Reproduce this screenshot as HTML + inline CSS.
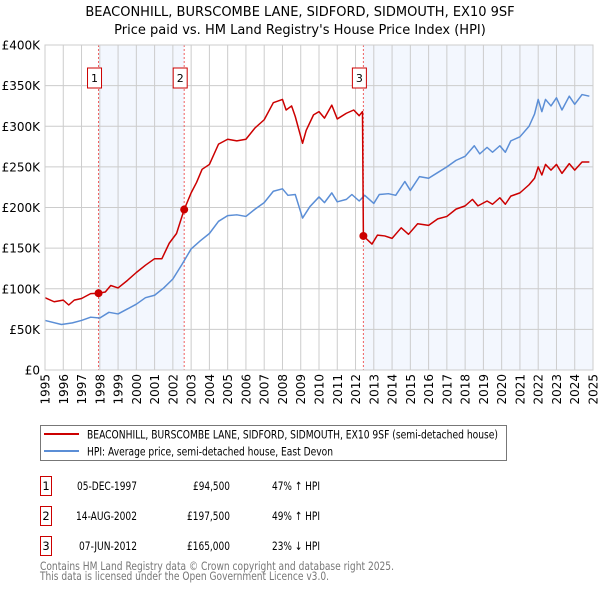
<!DOCTYPE html>
<html><head><meta charset="utf-8"><style>
body{margin:0;background:#fff;font-family:"DejaVu Sans","Liberation Sans",sans-serif;}
svg{display:block}
</style></head><body>
<svg id="chart" width="600" height="590" xmlns="http://www.w3.org/2000/svg" font-family="DejaVu Sans, Liberation Sans, sans-serif">
<text x="300" y="16" text-anchor="middle" font-size="13">BEACONHILL, BURSCOMBE LANE, SIDFORD, SIDMOUTH, EX10 9SF</text>
<text x="300" y="34" text-anchor="middle" font-size="13">Price paid vs. HM Land Registry's House Price Index (HPI)</text>
<g id="plot"></g>
<g>
<rect x="40.5" y="425.5" width="466" height="35" fill="#fff" stroke="#777"/>
<line x1="44" y1="434" x2="79" y2="434" stroke="#cc0000" stroke-width="2"/>
<text x="87" y="438.5" font-size="11.5" textLength="411" lengthAdjust="spacingAndGlyphs">BEACONHILL, BURSCOMBE LANE, SIDFORD, SIDMOUTH, EX10 9SF (semi-detached house)</text>
<line x1="44" y1="451" x2="79" y2="451" stroke="#5b8ed6" stroke-width="2"/>
<text x="87" y="455.5" font-size="11.5" textLength="246" lengthAdjust="spacingAndGlyphs">HPI: Average price, semi-detached house, East Devon</text>
</g>
<g font-size="11.5">
<rect x="40.5" y="476.5" width="11" height="19" fill="#fff" stroke="#cc0000"/><text x="46" y="490" text-anchor="middle">1</text>
<text x="77" y="490" textLength="60" lengthAdjust="spacingAndGlyphs">05-DEC-1997</text>
<text x="193" y="490" textLength="37" lengthAdjust="spacingAndGlyphs">£94,500</text>
<text x="272" y="490" textLength="48" lengthAdjust="spacingAndGlyphs">47% ↑ HPI</text>
<rect x="40.5" y="506.5" width="11" height="19" fill="#fff" stroke="#cc0000"/><text x="46" y="520" text-anchor="middle">2</text>
<text x="76" y="520" textLength="61" lengthAdjust="spacingAndGlyphs">14-AUG-2002</text>
<text x="187" y="520" textLength="43" lengthAdjust="spacingAndGlyphs">£197,500</text>
<text x="272" y="520" textLength="48" lengthAdjust="spacingAndGlyphs">49% ↑ HPI</text>
<rect x="40.5" y="536.5" width="11" height="19" fill="#fff" stroke="#cc0000"/><text x="46" y="550" text-anchor="middle">3</text>
<text x="79" y="550" textLength="58" lengthAdjust="spacingAndGlyphs">07-JUN-2012</text>
<text x="187" y="550" textLength="43" lengthAdjust="spacingAndGlyphs">£165,000</text>
<text x="272" y="550" textLength="48" lengthAdjust="spacingAndGlyphs">23% ↓ HPI</text>
</g>
<text x="40" y="570" font-size="11.5" fill="#777" textLength="354" lengthAdjust="spacingAndGlyphs">Contains HM Land Registry data © Crown copyright and database right 2025.</text>
<text x="40" y="580" font-size="11.5" fill="#777" textLength="289" lengthAdjust="spacingAndGlyphs">This data is licensed under the Open Government Licence v3.0.</text>
</svg>
<script>
const yTicks=[0,50,100,150,200,250,300,350,400];
const yTickLabels=["£0","£50K","£100K","£150K","£200K","£250K","£300K","£350K","£400K"];
const years=[1995,1996,1997,1998,1999,2000,2001,2002,2003,2004,2005,2006,2007,2008,2009,2010,2011,2012,2013,2014,2015,2016,2017,2018,2019,2020,2021,2022,2023,2024,2025];
const saleDates=[1997.93,2002.62,2012.43];
const salePrices=[94.5,197.5,165];
const saleLabels=["1","2","3"];
const hpiT=[1995,1995.9,1996.5,1997,1997.5,1998,1998.5,1999,1999.5,2000,2000.5,2001,2001.5,2002,2002.5,2003,2003.5,2004,2004.5,2005,2005.5,2006,2006.5,2007,2007.5,2008,2008.3,2008.7,2009.1,2009.5,2010,2010.3,2010.7,2011,2011.5,2011.8,2012.2,2012.5,2013,2013.3,2013.8,2014.2,2014.7,2015,2015.5,2016,2016.5,2017,2017.5,2018,2018.5,2018.8,2019.2,2019.5,2019.9,2020.2,2020.5,2021,2021.5,2021.8,2022,2022.2,2022.4,2022.7,2023,2023.3,2023.7,2024,2024.4,2024.8];
const hpiV=[61,56,58,61,65,64,71,69,75,81,89,92,101,112,130,149,159,168,183,190,191,189,198,206,220,223,215,216,187,201,213,206,218,207,210,216,208,215,205,216,217,215,232,221,238,236,243,250,258,263,276,266,274,268,276,268,282,287,300,315,333,318,333,325,335,320,337,327,339,337];
const priceT=[1995,1995.5,1996,1996.3,1996.6,1997,1997.5,1997.93,1998.3,1998.6,1999,1999.5,2000,2000.5,2001,2001.4,2001.8,2002.2,2002.62,2003,2003.3,2003.6,2004,2004.5,2005,2005.5,2006,2006.5,2007,2007.5,2008,2008.2,2008.5,2008.7,2009.1,2009.3,2009.7,2010,2010.3,2010.7,2011,2011.5,2011.9,2012.2,2012.38,2012.43,2012.9,2013.2,2013.6,2014,2014.5,2014.9,2015.4,2016,2016.5,2017,2017.5,2018,2018.4,2018.7,2019.2,2019.5,2019.9,2020.2,2020.5,2021,2021.5,2021.8,2022,2022.2,2022.4,2022.7,2023,2023.3,2023.7,2024,2024.4,2024.8];
const priceV=[89,84,86,80,86,88,94,94.5,96,104,101,110,120,129,137,137,156,168,197.5,218,231,247,253,278,284,282,284,298,308,329,333,320,325,312,279,295,314,318,310,326,309,316,320,313,318,165,155,166,165,162,175,167,180,178,186,189,198,202,210,202,208,204,212,204,214,218,228,236,250,240,253,246,253,242,254,246,256,256];

const NS="http://www.w3.org/2000/svg";
const L=45,R=593,T=45,B=370;
const xs=t=>L+(t-1995)/(2025-1995)*(R-L);
const ys=v=>B-v/400*(B-T);
const g=document.getElementById('plot');
function mk(tag,attrs,parent){const e=document.createElementNS(NS,tag);for(const k in attrs)e.setAttribute(k,attrs[k]);(parent||g).appendChild(e);return e;}
const sh1=mk('rect',{x:xs(saleDates[0]),y:T,width:xs(saleDates[1])-xs(saleDates[0]),height:B-T,fill:'#eef3fd',opacity:0.7});


const sh2=mk('rect',{x:xs(saleDates[2]),y:T,width:R-xs(saleDates[2]),height:B-T,fill:'#eef3fd',opacity:0.7});


years.forEach(yr=>{
 const gl=mk('line',{x1:xs(yr),x2:xs(yr),y1:T,y2:B,stroke:'#ccc','stroke-width':1});
 
 
 const tx=mk('text',{x:0,y:0,'font-size':12,'text-anchor':'end',transform:`translate(${xs(yr)+4.5},${374}) rotate(-90)`});
 tx.textContent=yr;
 
 
});
yTicks.forEach((v,i)=>{
 const gl=mk('line',{x1:L,x2:R,y1:ys(v),y2:ys(v),stroke:'#ccc','stroke-width':1});
 
 
 const tx=mk('text',{x:40,y:ys(v)+4.5,'font-size':12,'text-anchor':'end'});
 tx.textContent=yTickLabels[i];
 
 
});
saleDates.forEach((d,i)=>{
 const dl=mk('line',{x1:xs(d),x2:xs(d),y1:T,y2:B,stroke:'#f06060','stroke-width':1,'stroke-dasharray':'2,2'});
 
 
 const bx=mk('rect',{x:xs(d)-11,y:68,width:14,height:20,fill:'#fff',stroke:'#cc0000'});
 
 
 const tx=mk('text',{x:xs(d)-4,y:82,'font-size':11,'text-anchor':'middle'});
 tx.textContent=saleLabels[i];
 
 
});
const hp=mk('polyline',{points:hpiT.map((t,i)=>xs(t)+','+ys(hpiV[i])).join(' '),fill:'none',stroke:'#5b8ed6','stroke-width':1.5,'stroke-linejoin':'round'});


const pl=mk('polyline',{points:priceT.map((t,i)=>xs(t)+','+ys(priceV[i])).join(' '),fill:'none',stroke:'#cc0000','stroke-width':1.5,'stroke-linejoin':'round'});


saleDates.forEach((d,i)=>{
 const c=mk('circle',{cx:xs(d),cy:ys(salePrices[i]),r:4,fill:'#cc0000'});
 
 
});
const ax=mk('rect',{x:L,y:T,width:R-L,height:B-T,fill:'none',stroke:'#ccc'});


</script>
</body></html>
